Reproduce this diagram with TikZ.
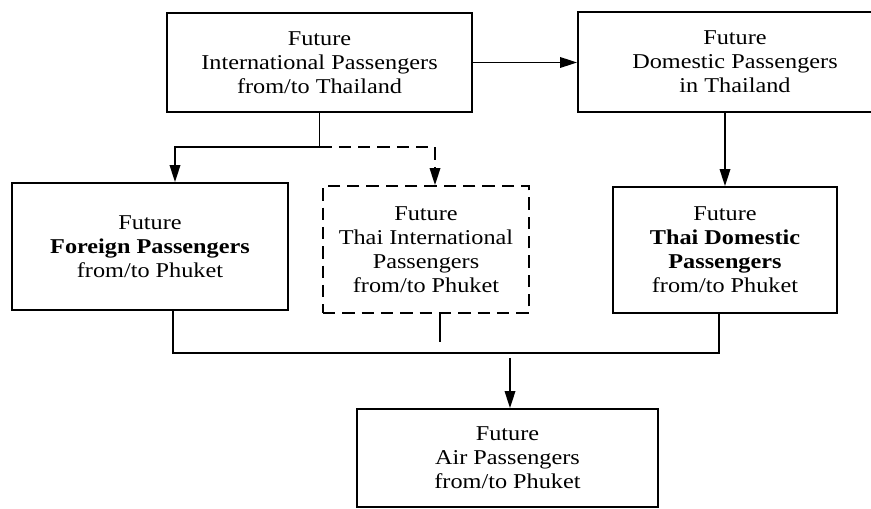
\documentclass[tikz,border=0pt]{standalone}
\usepackage{fontspec}
\setmainfont[FakeStretch=1.15]{Liberation Serif}
\usetikzlibrary{arrows.meta}
\begin{document}
\begin{tikzpicture}[x=0.2mm,y=-0.2mm,line width=1pt,
		>={Triangle[length=3.4mm,width=2.1mm]},
		box/.style={draw,inner sep=0pt,align=center,font=\fontsize{12}{13.6}\selectfont},
		dbox/.style={box,dash pattern=on 7pt off 4pt}]
		\useasboundingbox (0,0) rectangle (871,509);
		\clip (0,0) rectangle (871,509);
		% Boxes
		\node[box,minimum width=6.1cm,minimum height=1.98cm] (intl) at (319.5,62.5) {Future\\International Passengers\\from/to Thailand};
		\node[box,minimum width=6.28cm,minimum height=2cm] (dom) at (735,62) {Future\\Domestic Passengers\\in Thailand};
		\node[box,minimum width=5.52cm,minimum height=2.54cm] (foreign) at (150,246.5) {Future\\\textbf{Foreign Passengers}\\from/to Phuket};
		\node[dbox,minimum width=4.12cm,minimum height=2.54cm] (thaiint) at (426,249.5) {Future\\Thai International\\Passengers\\from/to Phuket};
		\node[box,minimum width=4.48cm,minimum height=2.52cm] (thaidom) at (725,250) {Future\\\textbf{Thai Domestic}\\\textbf{Passengers}\\from/to Phuket};
		\node[box,minimum width=6.02cm,minimum height=1.96cm] (air) at (507.5,458) {Future\\Air Passengers\\from/to Phuket};
		% Split below the international box
		\coordinate (split) at (319.5,147);
		\draw[->] (intl.east) -- (intl.east -| dom.west);
		\draw (intl.south) -- (split);
		\draw[->] (split) -| ([xshift=0.5cm]foreign.north);
		\draw[->,dash pattern=on 7pt off 4pt] (split) -| ([xshift=0.18cm]thaiint.north);
		\draw[->] (dom.south -| thaidom.north) -- (thaidom.north);
		% Join above the air box
		\coordinate (join) at (510,353);
		\coordinate (stub) at (440,342);
		\draw ([xshift=0.46cm]foreign.south) |- (join) -| ([xshift=-0.12cm]thaidom.south);
		\draw (thaiint.south -| stub) -- (stub);
		\draw[->] ([yshift=-0.1cm]join) -- (air.north -| join);
\end{tikzpicture}
\end{document}
